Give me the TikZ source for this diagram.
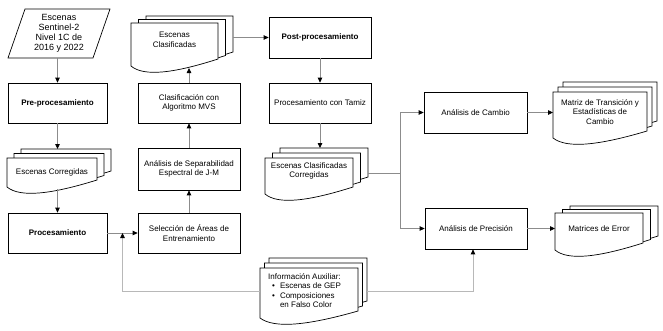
\documentclass[tikz,border=0pt]{standalone}
\usepackage{fontspec}
\setmainfont{Liberation Sans}
\usetikzlibrary{arrows.meta,calc}
\definecolor{conncol}{gray}{0.55}
\definecolor{auxcol}{gray}{0.72}
\newcommand\docshape[4]{%
  \pgfmathsetmacro\dxa{#1}\pgfmathsetmacro\dya{#2}%
  \pgfmathsetmacro\dxb{#3}\pgfmathsetmacro\dyb{#4}%
  \pgfmathsetmacro\dw{\dxb-\dxa}%
  \draw[shapeline,fill=white] (\dxa,\dyb) -- (\dxa,\dya) -- (\dxb,\dya) -- (\dxb,\dyb-7)
    .. controls (\dxa+0.5*\dw,\dyb+7) and (\dxa+0.15*\dw,\dyb+11) .. (\dxa,\dyb) -- cycle;
}
% name, x1, y1, x2, yb, dx, dy, text y, text
\newcommand\mdoc[9]{%
  \docshape{#2+2*#6}{#3-2*#7}{#4+2*#6}{#5-2*#7}%
  \docshape{#2+#6}{#3-#7}{#4+#6}{#5-#7}%
  \docshape{#2}{#3}{#4}{#5}%
  \node[align=center,inner sep=0pt] (#1) at ({(#2+#4)/2},#8) {#9};
  \coordinate (#1-e) at ({#4+2*#6},#8);
  \coordinate (#1-w) at (#2,#8);
  \coordinate (#1-n) at ({(#2+#4)/2},{#3-2*#7});
  \coordinate (#1-s) at ({(#2+#4)/2},{#5+2});
}
\begin{document}
\begin{tikzpicture}[x=1pt,y=-1pt,
  font=\fontsize{8}{9.5}\selectfont,
  shapeline/.style={draw=black,line width=0.7pt},
  box/.style={shapeline,fill=white,minimum width=102pt,minimum height=41pt,align=center,inner sep=1pt},
  conn/.style={draw=conncol,line width=0.8pt},
  arr/.style={conn,-{Triangle[length=5pt,width=4.5pt,color=black]}},
  auxarr/.style={draw=auxcol,line width=0.8pt,-{Triangle[length=5pt,width=4.5pt,color=black]}},
  auxconn/.style={draw=auxcol,line width=0.8pt}]
\useasboundingbox (0,0) rectangle (663,330);

% source parallelogram
\draw[shapeline,fill=white] (8,58) -- (25,9) -- (110,9) -- (93,58) -- cycle;
\node[align=center,inner sep=0pt,font=\fontsize{9}{10}\selectfont] (src) at (59,33)
  {Escenas\\Sentinel-2\\Nivel 1C de\\2016 y 2022};
\coordinate (src-s) at (59,58);

% boxes
\node[box,minimum width=99pt,minimum height=40pt] (pre) at (57.5,103) {\textbf{Pre-procesamiento}};
\node[box,minimum width=99pt,minimum height=40pt] (proc) at (57.5,233) {\textbf{Procesamiento}};
\node[box,minimum height=40pt] (sel) at (189,233) {Selección de Áreas de\\Entrenamiento};
\node[box,minimum height=42pt] (sep) at (189,169) {Análisis de Separabilidad\\Espectral de J-M};
\node[box,minimum height=40pt] (clf) at (189,103) {Clasificación con\\Algoritmo MVS};
\node[box] (post) at (320,37.5) {\textbf{Post-procesamiento}};
\node[box,minimum height=40pt] (tam) at (320,103) {Procesamiento con Tamiz};
\node[box,minimum width=103pt] (cam) at (475.5,112.5) {Análisis de Cambio};
\node[box] (prec) at (476,228.5) {Análisis de Precisión};

% documents
\mdoc{cor}{7}{158}{97}{187}{7}{4.5}{172}{Escenas Corregidas}
\mdoc{cla}{131}{23}{218}{66}{7.5}{3.5}{40}{Escenas\\Clasificadas}
\mdoc{ccor}{265}{158}{353}{194}{7.5}{5}{171}{Escenas Clasificadas\\Corregidas}
\mdoc{mat}{553}{92}{647}{138}{5}{5}{112}{Matriz de Transición y\\Estadísticas de\\Cambio}
\mdoc{err}{555}{213}{643}{250}{7.5}{3.5}{229}{Matrices de Error}
\mdoc{info}{260}{268}{358}{318}{4.5}{5}{291}{}
\node[anchor=base west,inner sep=0pt] (infotext) at (268,279)
  {\begin{tabular}[t]{@{\hspace{4pt}}l@{\hspace{5pt}}l@{}}
   \multicolumn{2}{@{}l@{}}{Información Auxiliar:}\\
   \textbullet & Escenas de GEP\\
   \textbullet & Composiciones\\
   & en Falso Color
   \end{tabular}};

% connectors
\draw[arr] (pre.north |- src-s) -- (pre.north);
\draw[arr] (pre.south) -- (pre.south |- cor-n);
\draw[arr] (proc.north |- cor-s) -- (proc.north);
\draw[arr] (proc.east) -- (sel.west);
\draw[arr] (sel.north) -- (sep.south);
\draw[arr] (sep.north) -- (clf.south);
\draw[arr] (clf.north) -- (clf.north |- cla-s);
\draw[arr] (post.west -| cla-e) -- (post.west);
\draw[arr] (post.south) -- (tam.north);
\draw[arr] (tam.south) -- (tam.south |- ccor-n);
\coordinate (br) at (400,173);
\draw[conn] (br -| ccor-e) -- (br);
\draw[conn] (br |- cam.west) -- (br |- prec.west);
\draw[arr] (br |- cam.west) -- (cam.west);
\draw[arr] (br |- prec.west) -- (prec.west);
\draw[arr] (cam.east) -- (cam.east -| mat-w);
\draw[arr] (prec.east) -- (prec.east -| err-w);
\coordinate (j1) at ($(proc.east)!0.5!(sel.west)$);
\draw[auxarr] (info-w) -| (j1);
\draw[auxarr] (info-e) -| ([xshift=-3pt]prec.south);
\end{tikzpicture}
\end{document}
